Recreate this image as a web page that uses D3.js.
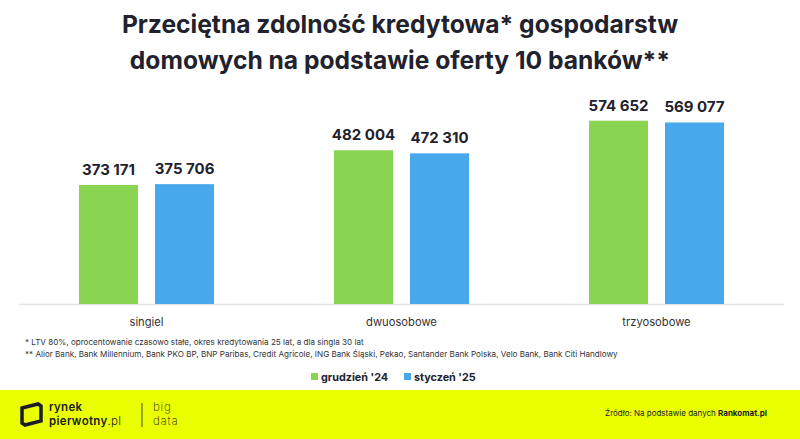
<!DOCTYPE html>
<html><head><meta charset="utf-8">
<script src="https://cdn.jsdelivr.net/npm/d3@7"></script>
<style>html,body{margin:0;padding:0;background:#fff;}svg{display:block;}</style>
</head><body>
<svg id="chart" width="800" height="439"></svg>
<script>
const categories = ["singiel", "dwuosobowe", "trzyosobowe"];
const seriesNames = ["grudzień '24", "styczeń '25"];
const grudzien24 = [373171, 482004, 574652];
const styczen25 = [375706, 472310, 569077];
const titleLines = ["Przeciętna zdolność kredytowa* gospodarstw", "domowych na podstawie oferty 10 banków**"];
const footnotes = ["* LTV 80%, oprocentowanie czasowo stałe, okres kredytowania 25 lat, a dla singla 30 lat",
  "** Alior Bank, Bank Millennium, Bank PKO BP, BNP Paribas, Credit Agricole, ING Bank Śląski, Pekao, Santander Bank Polska, Velo Bank, Bank Citi Handlowy"];

const colors = ["#89d451", "#47a9eb"];
const seriesValues = [grudzien24, styczen25];
const FONT = "Inter, 'Open Sans', sans-serif";
const dark = "#22222e";

const svg = d3.select("#chart");
const baseY = 304;

const x0 = d3.scaleBand().domain(categories).range([19, 784]).padding(0);
const x1 = d3.scaleBand().domain(d3.range(seriesNames.length)).range([0, 135]).paddingInner(17/76).paddingOuter(0);
const y = d3.scaleLinear().domain([0, 600000]).range([baseY, baseY - 191.4]);

// title
svg.append("g").selectAll("text").data(titleLines).join("text")
  .attr("x", 400).attr("y", (d,i) => 33 + i*36)
  .attr("text-anchor", "middle")
  .attr("font-family", FONT).attr("font-weight", 700).attr("font-size", 24.6)
  .attr("fill", dark).text(d => d);

// baseline
svg.append("line").attr("x1", 19).attr("x2", 784).attr("y1", baseY + 0.5).attr("y2", baseY + 0.5)
  .attr("stroke", "#e4e4e4").attr("stroke-width", 1.5);

const groups = svg.append("g").selectAll("g").data(categories).join("g")
  .attr("transform", d => `translate(${x0(d) + (x0.bandwidth() - 135)/2},0)`);

groups.each(function(cat, ci) {
  const g = d3.select(this);
  seriesValues.forEach((vals, si) => {
    const v = vals[ci];
    g.append("rect").attr("x", x1(si)).attr("y", y(v))
      .attr("width", x1.bandwidth()).attr("height", baseY - y(v))
      .attr("fill", colors[si]);
    g.append("text").attr("x", x1(si) + x1.bandwidth()/2).attr("y", y(v) - 10)
      .attr("text-anchor", "middle").attr("font-family", FONT).attr("font-weight", 700)
      .attr("font-size", 15).attr("fill", dark)
      .text(d3.format(",")(v).replace(/,/g, " "));
  });
});

// category axis labels
const xAxis = d3.axisBottom(x0).tickSize(0).tickPadding(0);
const axG = svg.append("g").attr("transform", `translate(0,${baseY + 22})`).call(xAxis);
axG.select(".domain").remove();
axG.selectAll("text").attr("font-family", FONT).attr("font-size", 11.2).attr("fill", "#333").attr("dy", 0);

// footnotes
svg.append("g").selectAll("text").data(footnotes).join("text")
  .attr("x", 25).attr("y", (d,i) => 345 + i*11.5)
  .attr("font-family", FONT).attr("font-size", 8.1).attr("fill", "#333").text(d => d);

// legend
const legendX = [311, 404];
const lg = svg.append("g").selectAll("g").data(seriesNames).join("g")
  .attr("transform", (d,i) => `translate(${legendX[i]},373)`);
lg.append("rect").attr("width", 7).attr("height", 7).attr("fill", (d,i) => colors[i]);
lg.append("text").attr("x", 10).attr("y", 7.5).attr("font-family", FONT).attr("font-weight", 700)
  .attr("font-size", 10.8).attr("fill", dark).text(d => d);

// footer
svg.append("rect").attr("x", 0).attr("y", 390).attr("width", 800).attr("height", 49).attr("fill", "#eaff00");
const logo = svg.append("g");
logo.append("path").attr("d", "M22,408 L38,404 L41,406 L41,421 L25,425 L22,423 Z")
  .attr("fill", "none").attr("stroke", "#1c1c24").attr("stroke-width", 3.5).attr("stroke-linejoin", "miter");
logo.append("text").attr("x", 49).attr("y", 410.5).attr("font-family", FONT).attr("font-weight", 600)
  .attr("font-size", 11.5).attr("letter-spacing", 0.3).attr("fill", "#1c1c24").text("rynek");
logo.append("text").attr("x", 49).attr("y", 424.5).attr("font-family", FONT).attr("font-weight", 600)
  .attr("font-size", 11.5).attr("letter-spacing", 0.3).attr("fill", "#1c1c24").text("pierwotny")
  .append("tspan").attr("font-weight", 300).text(".pl");
logo.append("line").attr("x1", 142).attr("x2", 142).attr("y1", 403).attr("y2", 427).attr("stroke", "#1c1c24").attr("stroke-width", 0.8);
logo.append("text").attr("x", 153).attr("y", 410.5).attr("font-family", FONT).attr("font-weight", 200)
  .attr("font-size", 11.5).attr("letter-spacing", 0.8).attr("fill", "#1c1c24").text("big");
logo.append("text").attr("x", 153).attr("y", 424.5).attr("font-family", FONT).attr("font-weight", 200)
  .attr("font-size", 11.5).attr("letter-spacing", 0.8).attr("fill", "#1c1c24").text("data");

const src = svg.append("text").attr("x", 767).attr("y", 416).attr("text-anchor", "end")
  .attr("font-family", FONT).attr("font-size", 8).attr("fill", "#1c1c24");
src.append("tspan").text("Źródło: Na podstawie danych ");
src.append("tspan").attr("font-weight", 700).text("Rankomat.pl");
</script>
</body></html>
